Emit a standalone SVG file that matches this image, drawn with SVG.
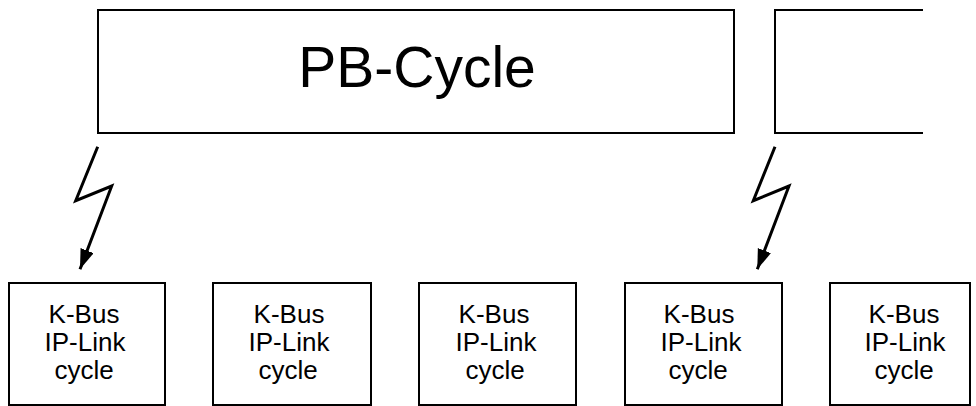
<svg xmlns="http://www.w3.org/2000/svg" width="976" height="406" viewBox="0 0 976 406">
<style>
.box{fill:#fff;stroke:#000;stroke-width:2}
.open{fill:none;stroke:#000;stroke-width:2}
.t{font-family:"Liberation Sans",Arial,sans-serif;fill:#000;text-anchor:middle}
.big{font-size:57px}
.small{font-size:26px}
.bolt{fill:none;stroke:#000;stroke-width:3;stroke-linejoin:miter}
</style>
<defs>
<marker id="ah" markerUnits="userSpaceOnUse" markerWidth="22" markerHeight="16" refX="20" refY="7" orient="auto" viewBox="0 0 22 16">
<path d="M0,0 L20,7 L0,14 Z" fill="#000"/>
</marker>
</defs>
<g id="pb-cycle">
<rect class="box" x="98" y="10" width="636" height="123"/>
<text class="t big" x="417" y="86.5">PB-Cycle</text>
</g>
<g id="pb-cycle-next">
<path class="open" d="M923,10 H775 V133 H923"/>
</g>
<g id="kbus1">
<rect class="box" x="9" y="283" width="156" height="122"/>
<text class="t small" x="84" y="323">K-Bus</text>
<text class="t small" x="85" y="351">IP-Link</text>
<text class="t small" x="84" y="379">cycle</text>
</g>
<g id="kbus2">
<rect class="box" x="213" y="283" width="158" height="122"/>
<text class="t small" x="289" y="323">K-Bus</text>
<text class="t small" x="289" y="351">IP-Link</text>
<text class="t small" x="288" y="379">cycle</text>
</g>
<g id="kbus3">
<rect class="box" x="419" y="283" width="157" height="122"/>
<text class="t small" x="494" y="323">K-Bus</text>
<text class="t small" x="496" y="351">IP-Link</text>
<text class="t small" x="495" y="379">cycle</text>
</g>
<g id="kbus4">
<rect class="box" x="625" y="283" width="157" height="122"/>
<text class="t small" x="699" y="323">K-Bus</text>
<text class="t small" x="701" y="351">IP-Link</text>
<text class="t small" x="698" y="379">cycle</text>
</g>
<g id="kbus5">
<rect class="box" x="830" y="283" width="140" height="122"/>
<text class="t small" x="904" y="323">K-Bus</text>
<text class="t small" x="905" y="351">IP-Link</text>
<text class="t small" x="904" y="379">cycle</text>
</g>
<g id="connectors">
<polyline class="bolt" points="97.7,146.7 75.7,200.7 111.7,186 80,269.3" marker-end="url(#ah)"/>
<polyline class="bolt" points="775,146.7 753.3,200.7 789,186 757.3,269.3" marker-end="url(#ah)"/>
</g>
</svg>
